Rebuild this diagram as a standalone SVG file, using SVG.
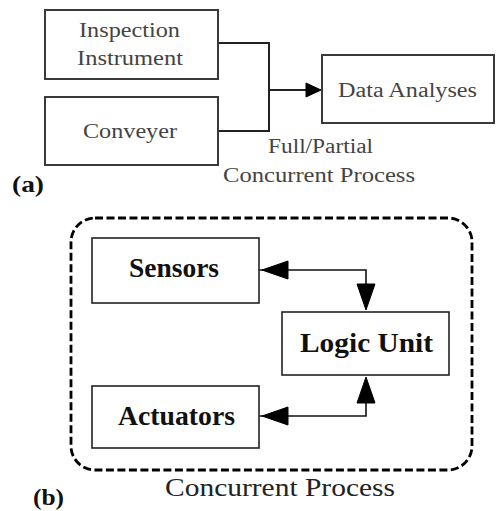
<svg xmlns="http://www.w3.org/2000/svg" width="497" height="511" viewBox="0 0 497 511">
<style>
.bx{fill:#fff;stroke:#3a3a3a;stroke-width:2}
.bx2{fill:#fff;stroke:#222;stroke-width:1.6}
.ta{font-family:"Liberation Serif","Times New Roman",serif;font-size:20px;fill:#444}
.tb{font-family:"Liberation Serif","Times New Roman",serif;font-size:28px;font-weight:bold;fill:#111}
.tl{font-family:"Liberation Serif","Times New Roman",serif;font-size:24px;font-weight:bold;fill:#111}
.tc{font-family:"Liberation Serif","Times New Roman",serif;font-size:25px;fill:#222}
.ln{fill:none;stroke:#222;stroke-width:2}
.ln2{fill:none;stroke:#111;stroke-width:1.6}
.hd{fill:#000;stroke:#000;stroke-width:1;stroke-linejoin:miter}
</style>
<g id="connectors">
<path class="ln" d="M218,43 H269 V131 H218"/>
<path class="ln" d="M269,90 H308"/>
<polygon class="hd" points="321,90 306,83 306,97"/>
<path class="ln2" d="M259,270 H366 V290"/>
<polygon class="hd" points="262,270 288,261 288,279"/>
<polygon class="hd" points="366,310 357,284 375,284"/>
<path class="ln2" d="M259,416 H366 V398"/>
<polygon class="hd" points="262,416 288,407 288,425"/>
<polygon class="hd" points="366,377 357,403 375,403"/>
</g>
<g id="inspection">
<rect class="bx" x="45" y="10" width="173" height="69"/>
<text class="ta" x="79" y="37" textLength="101" lengthAdjust="spacingAndGlyphs">Inspection</text>
<text class="ta" x="77" y="65" textLength="106" lengthAdjust="spacingAndGlyphs">Instrument</text>
</g>
<g id="conveyer">
<rect class="bx" x="45" y="97" width="173" height="68"/>
<text class="ta" x="83" y="138" textLength="94" lengthAdjust="spacingAndGlyphs">Conveyer</text>
</g>
<g id="data-analyses">
<rect class="bx" x="322" y="55" width="172" height="68"/>
<text class="ta" x="338" y="97" textLength="139" lengthAdjust="spacingAndGlyphs">Data Analyses</text>
</g>
<g id="label-a">
<text class="ta" x="268" y="153" textLength="105" lengthAdjust="spacingAndGlyphs">Full/Partial</text>
<text class="ta" x="223" y="182" textLength="192" lengthAdjust="spacingAndGlyphs">Concurrent Process</text>
<text class="tl" x="12" y="192" textLength="32" lengthAdjust="spacingAndGlyphs">(a)</text>
</g>
<g id="concurrent-process">
<rect x="71" y="218" width="401" height="252" rx="24" ry="24" fill="none" stroke="#000" stroke-width="2.8" stroke-dasharray="8,3.5"/>
<text class="tc" x="165" y="496" textLength="230" lengthAdjust="spacingAndGlyphs">Concurrent Process</text>
</g>
<g id="sensors">
<rect class="bx2" x="92" y="238" width="167" height="65"/>
<text class="tb" x="129" y="277" textLength="90" lengthAdjust="spacingAndGlyphs">Sensors</text>
</g>
<g id="logic-unit">
<rect class="bx2" x="282" y="312" width="167" height="63"/>
<text class="tb" x="300" y="352" textLength="133" lengthAdjust="spacingAndGlyphs">Logic Unit</text>
</g>
<g id="actuators">
<rect class="bx2" x="92" y="386" width="167" height="62"/>
<text class="tb" x="118" y="425" textLength="117" lengthAdjust="spacingAndGlyphs">Actuators</text>
</g>
<g id="label-b">
<text class="tl" x="33" y="505" textLength="31" lengthAdjust="spacingAndGlyphs">(b)</text>
</g>
</svg>
